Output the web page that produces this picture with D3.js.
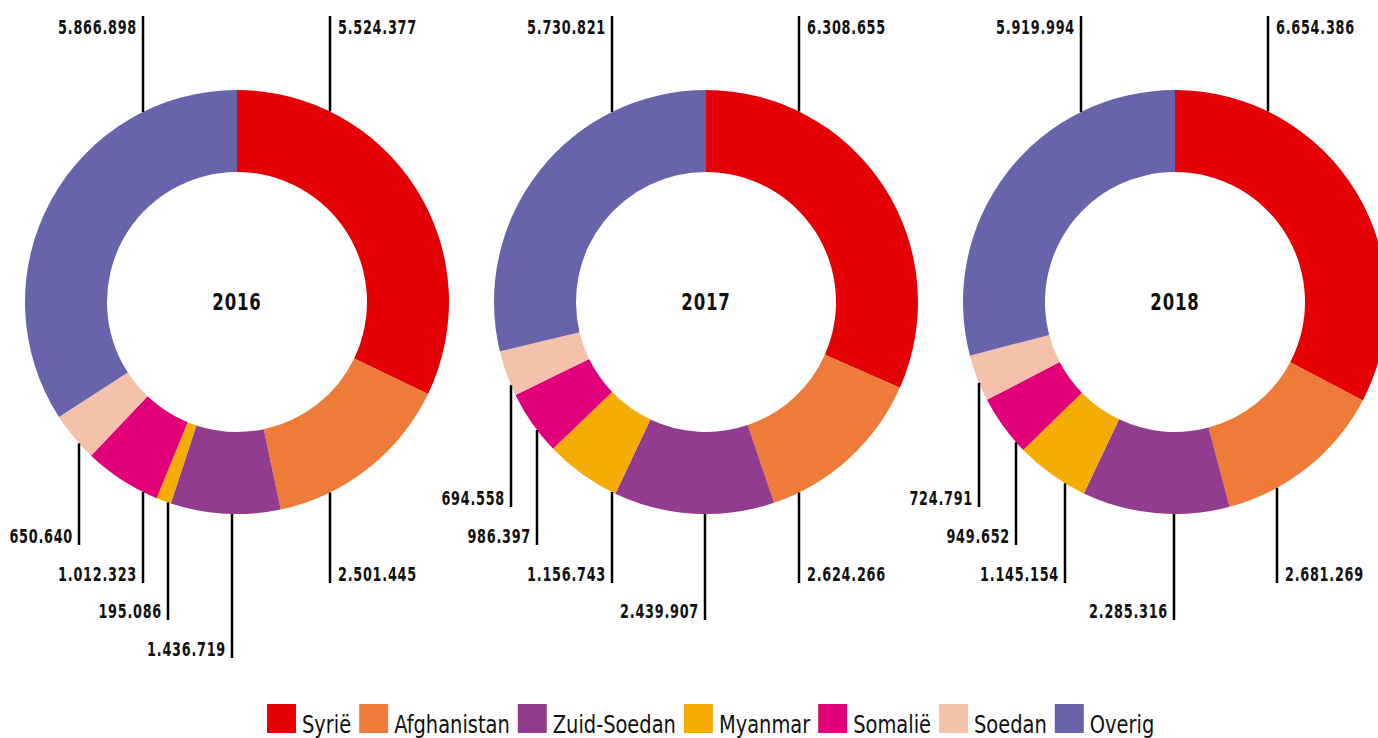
<!DOCTYPE html>
<html>
<head>
<meta charset="utf-8">
<script src="https://cdn.jsdelivr.net/npm/d3@7"></script>
<style>
  body { margin: 0; background: #fff; }
  svg { display: block; }
  .num { font-family: "DejaVu Sans Condensed", "DejaVu Sans", sans-serif; font-weight: bold; font-size: 19px; letter-spacing: 1px; fill: #111; }
  .year { font-family: "DejaVu Sans Condensed", "DejaVu Sans", sans-serif; font-weight: bold; font-size: 23px; letter-spacing: 1px; fill: #111; }
  .leg { font-family: "DejaVu Sans Condensed", "DejaVu Sans", sans-serif; font-size: 24px; fill: #111; }
</style>
</head>
<body>
<svg width="1378" height="738"></svg>
<script>
// data
const categories = ["Syrië", "Afghanistan", "Zuid-Soedan", "Myanmar", "Somalië", "Soedan", "Overig"];
const years = ["2016", "2017", "2018"];
const values2016 = [5524377, 2501445, 1436719, 195086, 1012323, 650640, 5866898];
const values2017 = [6308655, 2624266, 2439907, 1156743, 986397, 694558, 5730821];
const values2018 = [6654386, 2681269, 2285316, 1145154, 949652, 724791, 5919994];
const colors = ["#e50006", "#ee7b37", "#923c8f", "#f5ac00", "#e2007a", "#f4c1aa", "#6864ab"];

// label layout: horizontal offset of each leader line from the centre, and the level it ends at
const lineDx = [
  [93, 93, -5, -69, -94, -158, -94],
  [93, 93, -1, -94, -169, -195, -94],
  [93, 102, -1, -110, -159, -196, -94]
];
const lineLevel = [
  ["top", 583, 658, 620, 583, 545, "top"],
  ["top", 583, 620, 583, 545, 507, "top"],
  ["top", 583, 620, 583, 545, 507, "top"]
];

const series = [values2016, values2017, values2018];
const fmt = v => d3.format(",")(v).replace(/,/g, ".");

const svg = d3.select("svg");
const R = 212, r = 130, cy = 302;
const numScale = 0.75, legScale = 0.9;

// x positions of the donut centres
const x = d3.scalePoint()
  .domain(years)
  .range([237, 1175]);

const color = d3.scaleOrdinal()
  .domain(categories)
  .range(colors);

const pie = d3.pie().sort(null);
const arc = d3.arc().innerRadius(r).outerRadius(R);

years.forEach((year, yi) => {
  const cx = x(year);
  const g = svg.append("g")
    .attr("transform", "translate(" + cx + "," + cy + ")");

  g.selectAll("path")
    .data(pie(series[yi]))
    .enter()
    .append("path")
    .attr("d", arc)
    .attr("fill", (d, i) => color(categories[i]));

  g.append("text")
    .attr("class", "year")
    .attr("text-anchor", "middle")
    .attr("transform", "translate(0,8) scale(0.8,1)")
    .text(year);

  // leader lines and values
  series[yi].forEach((v, i) => {
    const dx = lineDx[yi][i];
    const h = Math.sqrt(R * R - dx * dx);
    const level = lineLevel[yi][i];
    let y1, y2, ty, tx, anchor;
    if (level === "top") {
      y1 = -h; y2 = 16 - cy; ty = 34 - cy;
    } else {
      y1 = h; y2 = level - cy; ty = level - 2 - cy;
    }
    if (dx > 0) { tx = dx + 8; anchor = "start"; }
    else { tx = dx - 6; anchor = "end"; }

    g.append("line")
      .attr("x1", dx).attr("x2", dx)
      .attr("y1", y1).attr("y2", y2)
      .attr("stroke", "#000")
      .attr("stroke-width", 2.5);

    g.append("text")
      .attr("class", "num")
      .attr("transform", "translate(" + tx + "," + ty + ") scale(" + numScale + ",1)")
      .attr("text-anchor", anchor)
      .text(fmt(v));
  });
});

// legend
const legend = svg.append("g").attr("transform", "translate(267,0)");
let lx = 0;
categories.forEach(c => {
  const item = legend.append("g").attr("transform", "translate(" + lx + ",0)");
  item.append("rect")
    .attr("width", 29).attr("height", 29)
    .attr("y", 704)
    .attr("fill", color(c));
  const t = item.append("text")
    .attr("class", "leg")
    .attr("transform", "translate(35,733) scale(" + legScale + ",1)")
    .text(c);
  lx += 35 + t.node().getComputedTextLength() * legScale + 8;
});
</script>
</body>
</html>
